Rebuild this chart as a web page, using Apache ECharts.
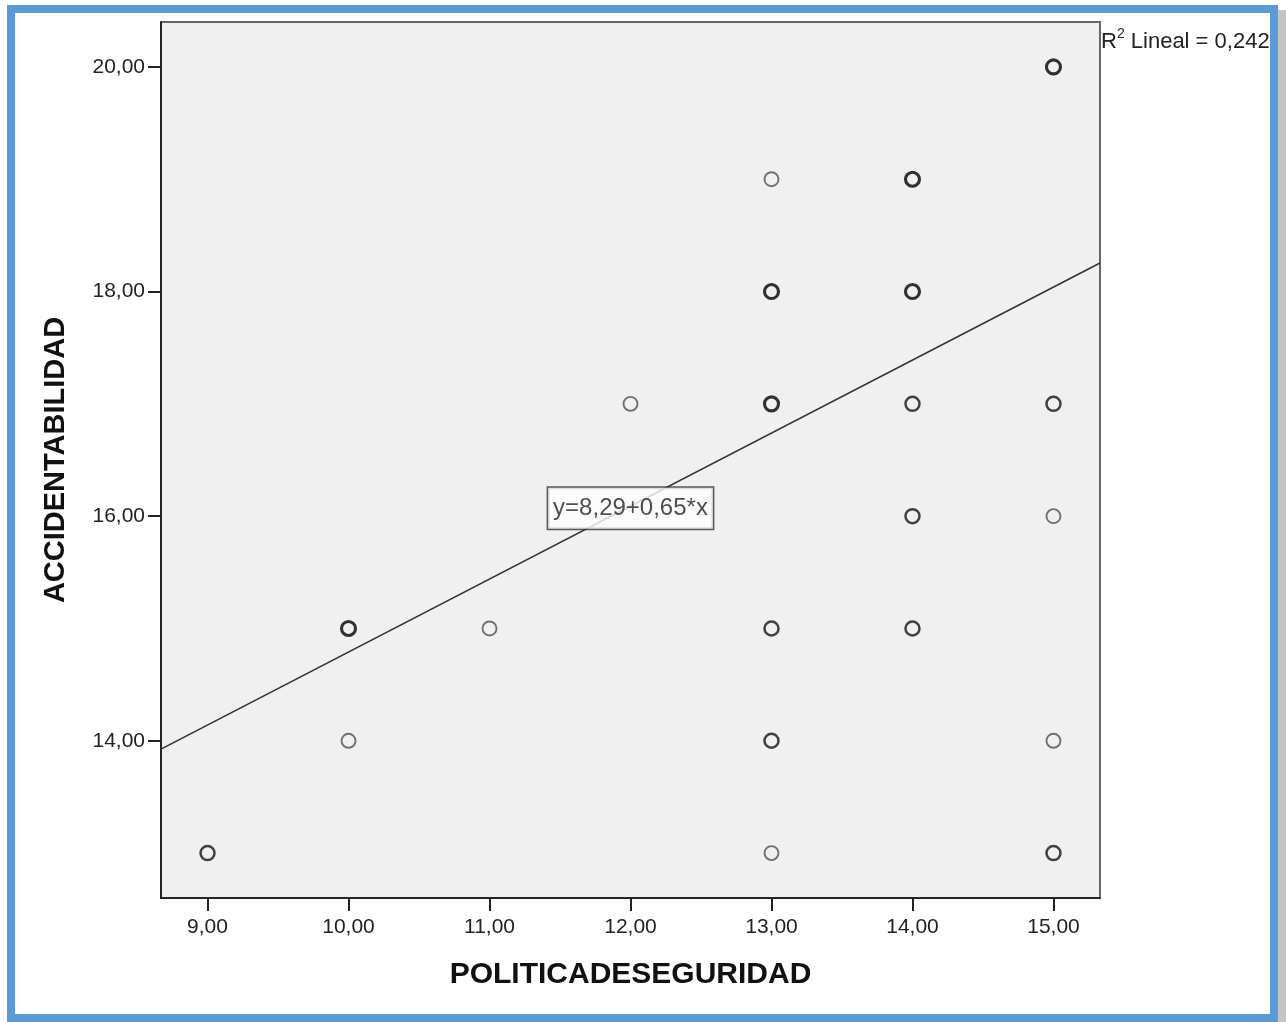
<!DOCTYPE html>
<html>
<head>
<meta charset="utf-8">
<script src="https://cdn.jsdelivr.net/npm/echarts@6/dist/echarts.min.js"></script>
<style>
html,body{margin:0;padding:0;background:#fff;}
#c{width:1286px;height:1022px;}
</style>
</head>
<body>
<div id="c"></div>
<script>
// Data
const xName = 'POLITICADESEGURIDAD';
const yName = 'ACCIDENTABILIDAD';
const xTicks = [9, 10, 11, 12, 13, 14, 15];
const yTicks = [14, 16, 18, 20];
// points: x, y, and how dark the marker looks (1 = single, 2 = few, 3 = many overlapping)
const ptX = [9, 10, 10, 11, 12, 13, 13, 13, 13, 13, 13, 14, 14, 14, 14, 14, 15, 15, 15, 15, 15];
const ptY = [13, 15, 14, 15, 17, 19, 18, 17, 15, 14, 13, 19, 18, 17, 16, 15, 20, 17, 16, 14, 13];
const ptW = [2, 3, 1, 1, 1, 1, 3, 3, 2, 2, 1, 3, 3, 2, 2, 2, 3, 2, 1, 1, 2];
const fitIntercept = 8.29;
const fitSlope = 0.65;
const fitRange = [8.67, 15.33];
const eqText = 'y=8,29+0,65*x';
const eqPos = [12.0, 16.07];
const r2Value = '0,242';

const fmt = v => v.toFixed(2).replace('.', ',');
const byLevel = lvl => ptX.map((x, i) => [x, ptY[i], ptW[i]]).filter(d => d[2] === lvl).map(d => [d[0], d[1]]);
const fitData = fitRange.map(x => [x, fitIntercept + fitSlope * x]);

const FONT = '"Liberation Sans", Arial, sans-serif';
const styles = {
  1: { color: '#505050', w: 1.9 },
  2: { color: '#151515', w: 2.5 },
  3: { color: '#000', w: 3.1 }
};
const scatterSeries = [1, 2, 3].map(l => ({
  type: 'scatter',
  data: byLevel(l),
  symbol: 'circle',
  symbolSize: 14,
  silent: true,
  z: 3,
  itemStyle: { color: 'rgba(0,0,0,0)', borderColor: styles[l].color, borderWidth: styles[l].w }
}));

const chart = echarts.init(document.getElementById('c'));
chart.setOption({
  animation: false,
  backgroundColor: '#fff',
  grid: {
    left: 161, top: 22, right: 186, bottom: 124,
    show: true, backgroundColor: '#f0f0f0', borderColor: '#666', borderWidth: 2
  },
  xAxis: {
    type: 'value', min: 8.67, max: 15.33,
    name: xName, nameLocation: 'middle', nameGap: 62,
    nameTextStyle: { fontFamily: FONT, fontSize: 30, fontWeight: 'bold', color: '#111' },
    axisLine: { show: true, onZero: false, lineStyle: { color: '#111', width: 1.5 } },
    axisTick: { show: true, length: 13, customValues: xTicks, lineStyle: { color: '#222', width: 2 } },
    axisLabel: { customValues: xTicks, formatter: fmt, margin: 19, fontFamily: FONT, fontSize: 21, color: '#222' },
    splitLine: { show: false }
  },
  yAxis: {
    type: 'value', min: 12.6, max: 20.4,
    name: yName, nameLocation: 'middle', nameGap: 91,
    nameTextStyle: { fontFamily: FONT, fontSize: 29, fontWeight: 'bold', color: '#111' },
    axisLine: { show: true, onZero: false, lineStyle: { color: '#111', width: 1.5 } },
    axisTick: { show: true, length: 13, customValues: yTicks, lineStyle: { color: '#222', width: 2 } },
    axisLabel: { customValues: yTicks, formatter: fmt, margin: 16, fontFamily: FONT, fontSize: 21, color: '#222' },
    splitLine: { show: false }
  },
  series: [
    {
      type: 'line', data: fitData, symbol: 'none', silent: true, z: 2,
      lineStyle: { color: '#333', width: 1.6 }
    },
    ...scatterSeries,
    {
      type: 'scatter', data: [eqPos], symbol: 'rect', symbolSize: 1, silent: true, z: 5,
      itemStyle: { color: 'rgba(0,0,0,0)' },
      label: {
        show: true, position: 'inside', formatter: eqText,
        fontFamily: FONT, fontSize: 24, color: '#222',
        backgroundColor: '#fff', borderColor: '#333', borderWidth: 1.5,
        padding: [10, 5, 7, 5]
      }
    }
  ],
  graphic: [
    { type: 'rect', shape: { x: 1278, y: 10, width: 8, height: 1012 }, style: { fill: '#c4c4c4' }, silent: true },
    { type: 'rect', shape: { x: 11, y: 9, width: 1263, height: 1009 }, style: { fill: 'none', stroke: '#5b9bd5', lineWidth: 8 }, silent: true, z: 10 },
    {
      type: 'text', left: 1101, top: 27, silent: true,
      style: {
        text: '{r|R}{s|2}{r| Lineal = ' + r2Value + '}',
        rich: {
          r: { fontFamily: FONT, fontSize: 22, fill: '#222', verticalAlign: 'bottom', lineHeight: 26 },
          s: { fontFamily: FONT, fontSize: 14, fill: '#222', verticalAlign: 'top', lineHeight: 26, padding: [0, 0, 10, 0] }
        }
      }
    }
  ]
});
</script>
</body>
</html>
